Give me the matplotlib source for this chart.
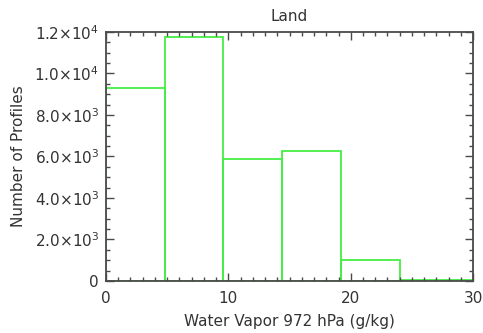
import numpy as np
import matplotlib.pyplot as plt
from matplotlib.ticker import MultipleLocator, FixedLocator

# Histogramme des profils (terre)
bin_left = [0.0, 4.8, 9.6, 14.4, 19.2, 24.0, 28.8]
bin_width = 4.8
counts = [9300, 11760, 5880, 6270, 1010, 60, 30]
yticks = [0, 2000, 4000, 6000, 8000, 10000, 12000]
ytick_labels = ['0', r'2.0$\times$10$^3$', r'4.0$\times$10$^3$', r'6.0$\times$10$^3$',
                r'8.0$\times$10$^3$', r'1.0$\times$10$^4$', r'1.2$\times$10$^4$']

plt.rcParams['font.family'] = ['DejaVu Sans']
plt.rcParams['mathtext.fontset'] = 'dejavusans'

txt = '#333333'
fs = 11
fig = plt.figure(figsize=(4.83, 3.33), dpi=100)
ax = fig.add_axes([0.2195, 0.1562, 0.760, 0.7477])

ax.bar(bin_left, counts, width=bin_width, align='edge', fill=False,
       edgecolor='#44ee44', linewidth=1.3, clip_on=True)

ax.set_xlim(0, 30)
ax.set_ylim(0, 12000)
ax.xaxis.set_major_locator(MultipleLocator(10))
ax.xaxis.set_minor_locator(MultipleLocator(1))
ax.yaxis.set_major_locator(FixedLocator(yticks))
ax.yaxis.set_minor_locator(MultipleLocator(500))
ax.set_yticklabels(ytick_labels)

ax.tick_params(which='both', direction='in', top=True, right=True, colors='#4a4a4a',
               labelcolor=txt, labelsize=fs)
ax.tick_params(which='major', length=6, width=1)
ax.tick_params(which='minor', length=3, width=1)
ax.tick_params(axis='x', pad=7)
ax.tick_params(axis='y', pad=5)
for s in ax.spines.values():
    s.set_color('#4a4a4a')
    s.set_linewidth(1.3)

ax.set_title('Land', color=txt, fontsize=fs, pad=8)
ax.set_xlabel('Water Vapor 972 hPa (g/kg)', color=txt, fontsize=fs, labelpad=6)
ax.set_ylabel('Number of Profiles', color=txt, fontsize=fs, labelpad=6)

plt.savefig('out.png', dpi=100)
plt.close()
